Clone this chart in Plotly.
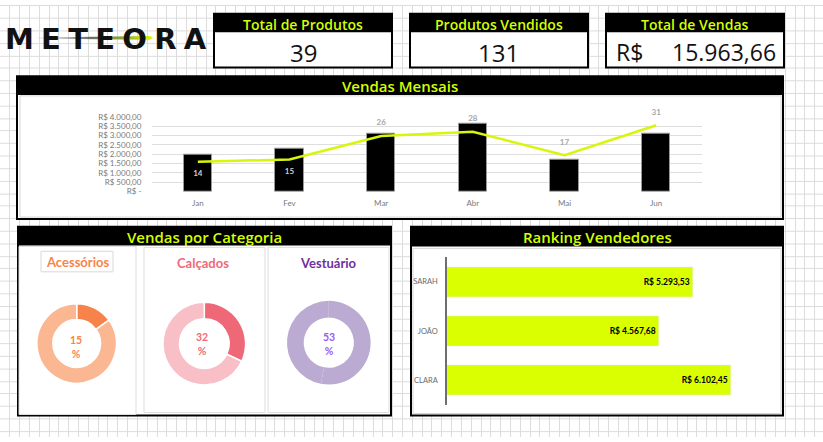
import plotly.graph_objects as go

# ---------------- data ----------------
kpi_titles = ["Total de Produtos", "Produtos Vendidos", "Total de Vendas"]
kpi_values = ["39", "131", "15.963,66"]
kpi_currency = "R$"

months = ["Jan", "Fev", "Mar", "Abr", "Mai", "Jun"]
monthly_sales = [1950, 2280, 3070, 3610, 1690, 3110]
monthly_qty = [14, 15, 26, 28, 17, 31]
qty_label_pos = ["bottom center", "bottom center", "top center",
                 "top center", "top center", "top center"]
qty_label_color = ["#D0D0D0", "#D0D0D0", "#A6A6A6", "#A6A6A6", "#A6A6A6", "#A6A6A6"]
sales_tickvals = [0, 500, 1000, 1500, 2000, 2500, 3000, 3500, 4000]
sales_ticktext = ["R$ -", "R$ 500,00", "R$ 1.000,00", "R$ 1.500,00", "R$ 2.000,00",
                  "R$ 2.500,00", "R$ 3.000,00", "R$ 3.500,00", "R$ 4.000,00"]

categories = ["Acessórios", "Calçados", "Vestuário"]
category_pct = [15, 32, 53]
category_dark = ["#F7834A", "#EE6877", "#BBABD3"]
category_light = ["#FAB792", "#F8BFC7", "#BBABD3"]
category_sep = [1.5, 1.5, 0]
category_title_color = ["#F9844A", "#F0697A", "#7030A0"]
category_pct_color = ["#F9844A", "#EE6A78", "#9B5CF2"]

sellers = ["CLARA", "JOÃO", "SARAH"]
seller_sales = [6102.45, 4567.68, 5293.53]
seller_labels = ["R$ 6.102,45", "R$ 4.567,68", "R$ 5.293,53"]

LIME = "#D4FF00"
BAR_LIME = "#DAFF00"

# ---------------- helpers (pixel -> paper) ----------------
W, H = 823, 442


def fx(px):
    return px / W


def fy(py):
    return 1 - py / H


shapes = []
annotations = []


def rect(x0, y0, x1, y1, fill="white", line="black", lw=0):
    shapes.append(dict(type="rect", xref="paper", yref="paper",
                       x0=fx(x0), x1=fx(x1), y0=fy(y1), y1=fy(y0),
                       fillcolor=fill, line=dict(color=line, width=lw),
                       layer="below"))


def text(x, y, s, size, color, family="Open Sans", weight="normal", xanchor="center"):
    annotations.append(dict(x=fx(x), y=fy(y), xref="paper", yref="paper", text=s,
                            showarrow=False, xanchor=xanchor, yanchor="middle",
                            font=dict(size=size, color=color, family=family, weight=weight)))


# ---------------- excel-like background grid ----------------
parts = []
x = 9.3
while x < W:
    xp = round(x) + 0.5
    parts.append(f"M{fx(xp):.5f},0 L{fx(xp):.5f},1")
    x += 9.817
y = 0.5
while y < H:
    yp = round(y) + 0.5
    parts.append(f"M0,{fy(yp):.5f} L1,{fy(yp):.5f}")
    y += 12.8
shapes.append(dict(type="path", xref="paper", yref="paper", path=" ".join(parts),
                   line=dict(color="#DCDCDC", width=1), layer="below"))

# ---------------- logo ----------------
logo = "\u2005".join("METEORA")
text(106, 35, f"<b>{logo}</b>", 29, "#111111", family="DejaVu Sans")

# ---------------- KPI boxes ----------------
kpi_left = [214, 410, 606]
for i, x0 in enumerate(kpi_left):
    x1 = x0 + 178
    rect(x0, 9, x1, 64, "white", "black", 2)
    rect(x0, 9, x1, 28, "black")
    text((x0 + x1) / 2, 19.5, kpi_titles[i], 14, LIME, weight=600)
    if i < 2:
        text((x0 + x1) / 2, 48.5, kpi_values[i], 24, "#111111")
    else:
        text(x0 + 8, 48.5, kpi_currency, 23, "#111111", xanchor="left")
        text(x1 - 6, 48.5, kpi_values[i], 23, "#111111", xanchor="right")

# ---------------- panels ----------------
rect(17, 73, 783, 219, "white", "black", 2)
rect(17, 73, 783, 92, "black")
rect(20, 93, 781, 217, "white", "#D4D4D4", 1)
text(400, 82.5, "Vendas Mensais", 15, LIME, weight=600)

rect(18, 227, 391, 420, "white", "black", 2)
rect(18, 227, 391, 246, "black")
rect(19, 247, 136, 419, "white", "#DDDDDD", 1)
rect(144, 248, 265, 417, "white", "#DDDDDD", 1)
rect(268, 248, 389, 417, "white", "#DDDDDD", 1)
rect(41, 252, 113, 273, "white", "#D9D9D9", 1)
text(204, 237, "Vendas por Categoria", 15, LIME, weight=600)

rect(411, 227, 783, 420, "white", "black", 2)
rect(411, 227, 783, 247, "black")
rect(413, 249, 781, 418, "white", "#D4D4D4", 1)
text(597, 237, "Ranking Vendedores", 15, LIME, weight=600)

# category titles and center labels
cat_title_pos = [(77, 263), (203, 263.5), (328, 264)]
cat_pct_pos = [(76, 350.3), (202, 347), (328.5, 347)]
pie_domains = [((36, 117.4), (305.6, 387)),
               ((162, 246.6), (304.2, 388.8)),
               ((286, 371.6), (302.7, 388.3))]
for i, name in enumerate(categories):
    text(cat_title_pos[i][0], cat_title_pos[i][1], name, 13, category_title_color[i],
         family="Lato", weight="bold")
    text(cat_pct_pos[i][0], cat_pct_pos[i][1], f"{category_pct[i]}<br>%", 10.5,
         category_pct_color[i], family="Lato", weight="bold")

# ---------------- traces ----------------
fig = go.Figure()

fig.add_trace(go.Bar(x=months, y=monthly_sales, width=0.31,
                     marker=dict(color="black", line=dict(color="#9A9A9A", width=1)),
                     xaxis="x", yaxis="y", hoverinfo="skip"))

fig.add_trace(go.Scatter(x=months, y=monthly_qty, mode="lines+markers+text",
                         line=dict(color="#D8F50A", width=2.5),
                         marker=dict(size=12, color="rgba(0,0,0,0)"),
                         text=[str(v) for v in monthly_qty], textposition=qty_label_pos,
                         textfont=dict(size=8, color=qty_label_color, family="Lato", weight="bold"),
                         cliponaxis=False,
                         xaxis="x", yaxis="y2", hoverinfo="skip"))

for i, name in enumerate(categories):
    (dx0, dx1), (dy0, dy1) = pie_domains[i]
    fig.add_trace(go.Pie(values=[category_pct[i], 100 - category_pct[i]],
                         marker=dict(colors=[category_dark[i], category_light[i]],
                                     line=dict(color="white", width=category_sep[i])),
                         hole=0.6, sort=False, direction="clockwise", rotation=0,
                         textinfo="none", hoverinfo="skip", showlegend=False,
                         domain=dict(x=[fx(dx0), fx(dx1)], y=[fy(dy1), fy(dy0)])))

fig.add_trace(go.Bar(y=sellers, x=seller_sales, orientation="h", width=0.61,
                     marker=dict(color=BAR_LIME),
                     text=seller_labels, textposition="inside", insidetextanchor="end",
                     textangle=0, constraintext="none",
                     insidetextfont=dict(size=8.5, color="black", family="Lato", weight="bold"),
                     xaxis="x3", yaxis="y3", hoverinfo="skip"))

# logo streak (decoration)
fig.add_trace(go.Scatter(x=[38, 100, 150, 153, 150, 100, 38, 38],
                         y=[33.2, 32.3, 31.6, 33.6, 35.6, 35.0, 34.2, 33.2],
                         mode="lines", line=dict(width=0), fill="toself",
                         fillgradient=dict(type="horizontal",
                                           colorscale=[[0, "rgba(190,190,190,0.4)"],
                                                       [0.45, "#6A6A6A"],
                                                       [0.72, "#8FA030"],
                                                       [1, "#D4FF00"]]),
                         xaxis="x4", yaxis="y4", hoverinfo="skip"))

tickfont = dict(size=8, color="#7A7A7A", family="Lato")

fig.update_layout(
    width=W, height=H, margin=dict(l=0, r=0, t=0, b=0, pad=0),
    paper_bgcolor="white", plot_bgcolor="rgba(0,0,0,0)",
    showlegend=False, hovermode=False, bargap=0,
    shapes=shapes, annotations=annotations,
    xaxis=dict(domain=[fx(152), fx(702)], showgrid=False, showline=False, zeroline=False,
               ticks="outside", ticklen=4, tickcolor="rgba(0,0,0,0)", tickfont=tickfont,
               fixedrange=True),
    yaxis=dict(domain=[fy(191), fy(114.3)], range=[0, 4000], tickvals=sales_tickvals,
               ticktext=sales_ticktext, showgrid=True, gridcolor="#DEDEDE", gridwidth=1,
               zeroline=False, showline=False, ticks="outside", ticklen=8,
               tickcolor="rgba(0,0,0,0)", tickfont=tickfont, fixedrange=True),
    yaxis2=dict(overlaying="y", anchor="x", range=[0, 35], visible=False, fixedrange=True),
    xaxis3=dict(domain=[fx(447), fx(772.5)], range=[0, 7000], visible=False,
                anchor="y3", fixedrange=True),
    yaxis3=dict(domain=[fy(409), fy(258)], anchor="x3", showgrid=False, zeroline=False,
                showline=True, linecolor="#6E6E6E", linewidth=1.5, ticks="outside",
                ticklen=6, tickcolor="rgba(0,0,0,0)",
                tickfont=dict(size=7.5, color="#6A6A6A", family="Lato"), fixedrange=True),
    xaxis4=dict(domain=[0, 1], range=[0, W], visible=False, anchor="y4", fixedrange=True),
    yaxis4=dict(domain=[0, 1], range=[H, 0], visible=False, anchor="x4", fixedrange=True),
)

fig.write_html("out.html", post_script="document.body.style.margin='0';",
               config={"displayModeBar": False})
